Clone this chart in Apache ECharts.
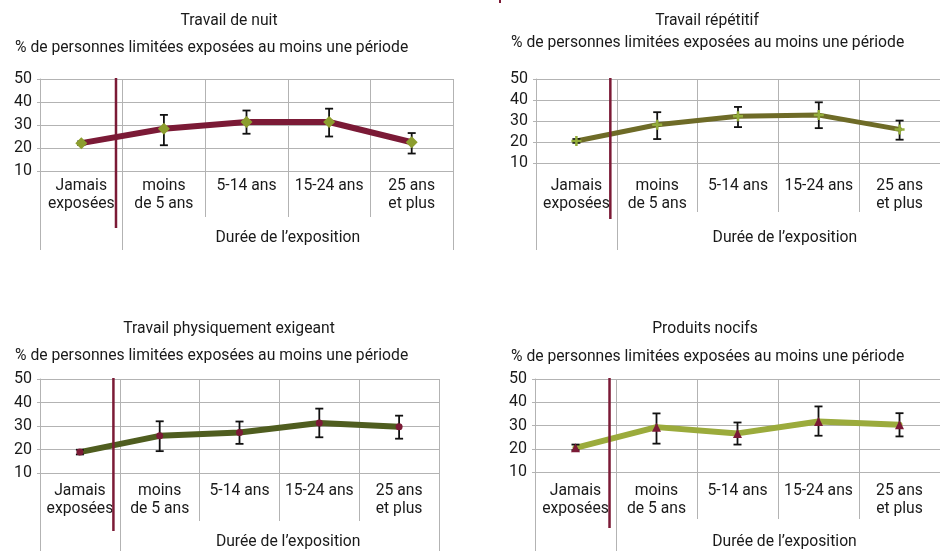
<!DOCTYPE html>
<html>
<head>
<meta charset="utf-8">
<script src="https://cdn.jsdelivr.net/npm/echarts@6/dist/echarts.min.js"></script>
<style>
html, body { margin: 0; padding: 0; background: #ffffff; }
#chart { width: 940px; height: 551px; }
</style>
</head>
<body>
<div id="chart"></div>
<script>
// Categories and labels shared by the four panels
const categories = ['Jamais\nexposées', 'moins\nde 5 ans', '5-14 ans', '15-24 ans', '25 ans\net plus'];
const yTicks = [10, 20, 30, 40, 50];
const yAxisTitle = '% de personnes limitées exposées au moins une période';
const groupLabel = 'Durée de l’exposition';
const panelTitles = ['Travail de nuit', 'Travail répétitif', 'Travail physiquement exigeant', 'Produits nocifs'];

// Travail de nuit
const nuitValues = [22.1, 28.4, 31.3, 31.3, 22.5];
const nuitLow    = [21.3, 21.2, 26.2, 25.0, 17.6];
const nuitHigh   = [22.9, 34.4, 36.3, 37.1, 26.5];

// Travail répétitif
const repetitifValues = [20.5, 28.2, 32.3, 32.8, 26.0];
const repetitifLow    = [19.6, 21.4, 27.1, 26.6, 21.1];
const repetitifHigh   = [21.4, 34.2, 36.7, 38.9, 30.2];

// Travail physiquement exigeant
const physiqueValues = [18.9, 25.8, 27.2, 31.3, 29.7];
const physiqueLow    = [17.9, 19.3, 22.4, 25.2, 24.6];
const physiqueHigh   = [19.9, 32.0, 31.9, 37.4, 34.4];

// Produits nocifs
const nocifsValues = [20.4, 29.3, 26.6, 31.7, 30.3];
const nocifsLow    = [19.4, 22.2, 21.8, 25.6, 25.3];
const nocifsHigh   = [21.8, 35.2, 31.3, 38.2, 35.3];

// Position of the vertical separator between "never exposed" and the durations
const separatorAt = 0.92;

const FONT = 'Roboto, "Liberation Sans", sans-serif';
const TEXT = '#1a1a1a';
const GRID_COLOR = '#b3b3b3';
const MAROON = '#7b1a36';
const FS = 15.7;

const panels = [
  {
    title: panelTitles[0], values: nuitValues, low: nuitLow, high: nuitHigh,
    grid: { left: 40, right: 487, top: 79, bottom: 380 },
    titleX: 229, titleY: 21, subX: 15, subY: 48,
    lineColor: '#7b1a36', lineWidth: 6,
    symbol: 'diamond', symbolSize: [12, 12], symbolColor: '#8c9d2e',
    tickLen: 46, outerTickLen: 79, labelMargin: 6, groupMargin: 58, groupAt: 3.0, sepExtra: 57
  },
  {
    title: panelTitles[1], values: repetitifValues, low: repetitifLow, high: repetitifHigh,
    grid: { left: 536, right: -4, top: 79, bottom: 388 },
    titleX: 707, titleY: 21, subX: 511, subY: 43,
    lineColor: '#6e6b27', lineWidth: 5,
    symbol: 'path://M3,0H5V3H8V5H5V8H3V5H0V3H3Z', symbolSize: [10, 10], symbolColor: '#93ad3a',
    tickLen: 49, outerTickLen: 87, labelMargin: 14, groupMargin: 66, groupAt: 3.08, sepExtra: 56
  },
  {
    title: panelTitles[2], values: physiqueValues, low: physiqueLow, high: physiqueHigh,
    grid: { left: 40, right: 501, top: 379, bottom: 77 },
    titleX: 229, titleY: 329, subX: 15, subY: 356,
    lineColor: '#4f5d1f', lineWidth: 6,
    symbol: 'circle', symbolSize: 7, symbolColor: '#7b1a36',
    tickLen: 48, outerTickLen: 100, labelMargin: 9, groupMargin: 60, groupAt: 3.11, sepExtra: 58
  },
  {
    title: panelTitles[3], values: nocifsValues, low: nocifsLow, high: nocifsHigh,
    grid: { left: 535, right: -4, top: 379, bottom: 79 },
    titleX: 705, titleY: 329, subX: 511, subY: 357,
    lineColor: '#9bab3c', lineWidth: 6,
    symbol: 'triangle', symbolSize: [9, 9], symbolColor: '#7b1a36',
    tickLen: 47, outerTickLen: 100, labelMargin: 10, groupMargin: 61, groupAt: 3.08, sepExtra: 56
  }
];

const option = {
  animation: false,
  backgroundColor: '#ffffff',
  textStyle: { fontFamily: FONT },
  title: [],
  grid: [],
  xAxis: [],
  yAxis: [],
  series: [],
  graphic: [
    { type: 'rect', left: 499, top: 0, shape: { width: 2, height: 3 }, style: { fill: MAROON } }
  ]
};

function errorBarItem(params, api) {
  const x = api.value(0);
  const top = api.coord([x, api.value(2)]);
  const bot = api.coord([x, api.value(1)]);
  const cap = 4;
  const style = { stroke: '#111111', lineWidth: 1.8 };
  return {
    type: 'group',
    children: [
      { type: 'line', shape: { x1: top[0], y1: top[1], x2: bot[0], y2: bot[1] }, style },
      { type: 'line', shape: { x1: top[0] - cap, y1: top[1], x2: top[0] + cap, y2: top[1] }, style },
      { type: 'line', shape: { x1: bot[0] - cap, y1: bot[1], x2: bot[0] + cap, y2: bot[1] }, style }
    ]
  };
}

panels.forEach((p, i) => {
  const xCat = i * 2, xVal = i * 2 + 1;

  option.title.push(
    { text: p.title, left: p.titleX, top: p.titleY - 10, textAlign: 'center', padding: 0,
      textStyle: { fontFamily: FONT, fontSize: FS, fontWeight: 'normal', color: TEXT, lineHeight: 20 } },
    { text: yAxisTitle, left: p.subX, top: p.subY - 10, padding: 0,
      textStyle: { fontFamily: FONT, fontSize: FS, fontWeight: 'normal', color: TEXT, lineHeight: 20 } }
  );

  option.grid.push(Object.assign({ containLabel: false }, p.grid));

  // Category axis: duration classes, with cells drawn by ticks and split lines
  option.xAxis.push({
    type: 'category', gridIndex: i, data: categories, boundaryGap: true,
    axisLine: { show: true, lineStyle: { color: GRID_COLOR, width: 1 } },
    axisTick: { show: true, interval: 0, length: p.tickLen, lineStyle: { color: GRID_COLOR, width: 1 } },
    splitLine: { show: true, interval: 0, lineStyle: { color: GRID_COLOR, width: 1 } },
    axisLabel: { interval: 0, margin: p.labelMargin, fontFamily: FONT, fontSize: FS, lineHeight: 18, color: TEXT }
  });

  // Companion value axis for the outer grouping band and its label
  option.xAxis.push({
    type: 'value', gridIndex: i, min: 0, max: 5, position: 'bottom',
    axisLine: { show: false },
    splitLine: { show: false },
    axisTick: { show: true, customValues: [0, 1, 5], length: p.outerTickLen, lineStyle: { color: GRID_COLOR, width: 1 } },
    axisLabel: { show: true, customValues: [p.groupAt], margin: p.groupMargin, formatter: () => groupLabel,
      fontFamily: FONT, fontSize: FS, lineHeight: 18, color: TEXT }
  });

  option.yAxis.push({
    type: 'value', gridIndex: i, min: yTicks[0], max: yTicks[yTicks.length - 1], interval: 10,
    axisLine: { show: true, lineStyle: { color: GRID_COLOR, width: 1 } },
    axisTick: { show: true, length: 3, lineStyle: { color: GRID_COLOR } },
    splitLine: { show: true, lineStyle: { color: GRID_COLOR, width: 1 } },
    axisLabel: { margin: 8, fontFamily: FONT, fontSize: 16, color: TEXT }
  });

  option.series.push(
    {
      type: 'line', xAxisIndex: xCat, yAxisIndex: i, data: p.values,
      showSymbol: false, z: 2,
      lineStyle: { color: p.lineColor, width: p.lineWidth, cap: 'round', join: 'round' }
    },
    {
      type: 'custom', xAxisIndex: xCat, yAxisIndex: i, z: 3,
      data: categories.map((c, k) => [k, p.low[k], p.high[k]]),
      encode: { x: 0, y: [1, 2] },
      renderItem: errorBarItem
    },
    {
      type: 'scatter', xAxisIndex: xCat, yAxisIndex: i, z: 4, data: p.values,
      symbol: p.symbol, symbolSize: p.symbolSize,
      itemStyle: { color: p.symbolColor, opacity: 1 }
    },
    {
      // separator line running from the top of the plot down into the label band
      type: 'custom', xAxisIndex: xVal, yAxisIndex: i, z: 5, clip: false,
      data: [[separatorAt]],
      encode: { x: 0 },
      renderItem: (params, api) => {
        const top = api.coord([api.value(0), yTicks[yTicks.length - 1]]);
        const bottom = api.coord([api.value(0), yTicks[0]]);
        return {
          type: 'line',
          shape: { x1: top[0], y1: top[1] - 1, x2: top[0], y2: bottom[1] + p.sepExtra },
          style: { stroke: MAROON, lineWidth: 2.5 }
        };
      }
    }
  );
});

const chart = echarts.init(document.getElementById('chart'), null, { renderer: 'canvas' });
chart.setOption(option);
</script>
</body>
</html>
